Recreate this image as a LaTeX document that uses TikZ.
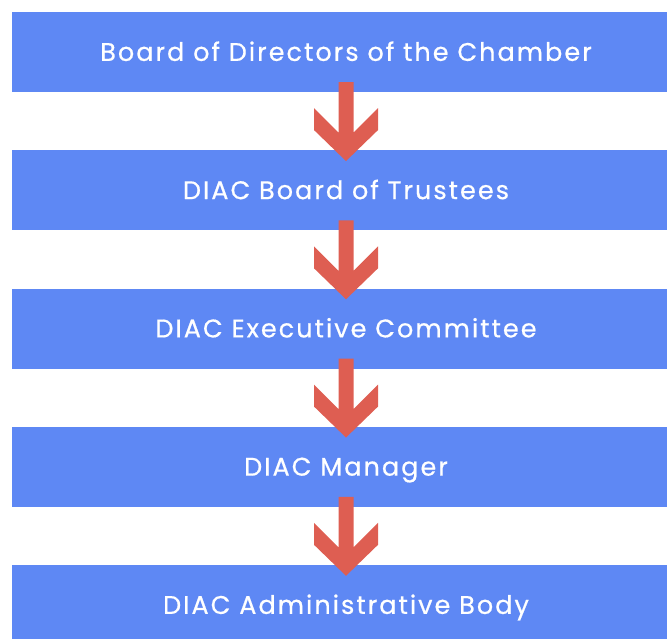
\documentclass[tikz,border=0pt]{standalone}
\usepackage{fontspec}
\setmainfont{Poppins}[LetterSpace=8,FakeBold=0.6]
\usepackage{xcolor}
\usetikzlibrary{matrix}
\definecolor{boardblue}{HTML}{5E88F4}
\definecolor{arrowred}{HTML}{DE5E52}

\begin{document}
\begin{tikzpicture}
  \useasboundingbox (0,0) rectangle (667pt,-639pt);
  \matrix (m) [matrix of nodes,row sep=58.25pt,
    nodes={fill=boardblue,text=white,minimum width=668pt,minimum height=80pt,
      inner sep=0pt,text height=17.8pt,text depth=0pt,
      font=\fontsize{25.5}{30}\selectfont}]
    at (346pt,-328.5pt)
  {
     Board of Directors of the Chamber \\
     DIAC Board of Trustees \\
     DIAC Executive Committee \\
     DIAC Manager \\
     DIAC Administrative Body \\};
  \foreach \i/\j in {1/2,2/3,3/4,4/5}
    \fill[arrowred] ([shift={(-7.5pt,10pt)}]m-\i-1.south)
      -- ([shift={(-7.5pt,17.5pt)}]m-\j-1.north)
      -- ([shift={(-32pt,42pt)}]m-\j-1.north)
      -- ([shift={(-32pt,20pt)}]m-\j-1.north)
      -- ([shift={(0pt,-11pt)}]m-\j-1.north)
      -- ([shift={(32pt,20pt)}]m-\j-1.north)
      -- ([shift={(32pt,42pt)}]m-\j-1.north)
      -- ([shift={(7.5pt,17.5pt)}]m-\j-1.north)
      -- ([shift={(7.5pt,10pt)}]m-\i-1.south) -- cycle;
\end{tikzpicture}
\end{document}
